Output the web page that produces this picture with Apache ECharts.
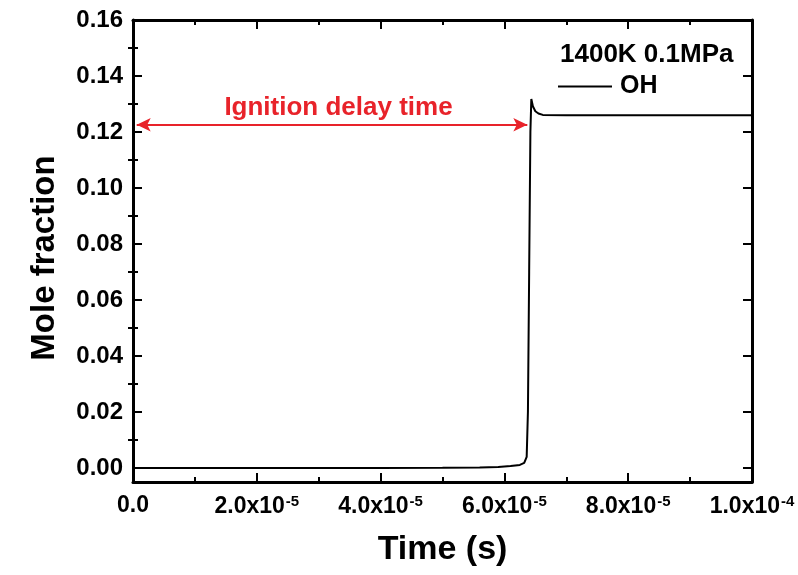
<!DOCTYPE html>
<html>
<head>
<meta charset="utf-8">
<script src="https://cdn.jsdelivr.net/npm/echarts@6/dist/echarts.min.js"></script>
<style>
html,body{margin:0;padding:0;background:#fff;}
#chart{width:798px;height:575px;}
</style>
</head>
<body>
<div id="chart"></div>
<script>
// ---- data ----
const timeS = [0, 2.0e-5, 4.0e-5, 5.0e-5, 5.6e-5, 5.9e-5, 6.1e-5, 6.25e-5, 6.32e-5, 6.36e-5, 6.38e-5, 6.40e-5, 6.42e-5, 6.435e-5, 6.46e-5, 6.5e-5, 6.55e-5, 6.62e-5, 7.0e-5, 8.0e-5, 1.0e-4];
const ohFraction = [0, 0, 0, 0.00005, 0.0002, 0.0004, 0.0007, 0.0011, 0.0018, 0.004, 0.02, 0.07, 0.12, 0.1318, 0.1292, 0.1274, 0.1266, 0.1261, 0.126, 0.126, 0.126];
const xTickValues = [0, 2e-5, 4e-5, 6e-5, 8e-5, 1e-4];
const xTickLabels = ['{b|0.0}', '{b|2.0x10}{s|-5}', '{b|4.0x10}{s|-5}', '{b|6.0x10}{s|-5}', '{b|8.0x10}{s|-5}', '{b|1.0x10}{s|-4}'];
const yMajorTicks = [0, 0.02, 0.04, 0.06, 0.08, 0.10, 0.12, 0.14, 0.16];
const yTickLabels = ['0.00', '0.02', '0.04', '0.06', '0.08', '0.10', '0.12', '0.14', '0.16'];
const yMinorTicks = [0.01, 0.03, 0.05, 0.07, 0.09, 0.11, 0.13, 0.15];
const arrowX = [6e-7, 6.37e-5];
const arrowY = 0.1226;
const seriesName = 'OH';
const conditionText = '1400K 0.1MPa';
const arrowText = 'Ignition delay time';

const FONT = 'Liberation Sans, Arial, sans-serif';
const black = '#000';
const red = '#e8232a';

function xLabel(v) {
  for (let i = 0; i < xTickValues.length; i++) {
    if (Math.abs(v - xTickValues[i]) < 1e-9) return xTickLabels[i];
  }
  return '';
}
function yLabel(v) {
  for (let i = 0; i < yMajorTicks.length; i++) {
    if (Math.abs(v - yMajorTicks[i]) < 1e-6) return yTickLabels[i];
  }
  return '';
}

const axisLineStyle = {show: true, onZero: false, lineStyle: {color: black, width: 3}};
const tickLine = {color: black, width: 2};

function xAxisDef(pos, withLabels) {
  return {
    type: 'value', position: pos, min: 0, max: 1e-4, interval: 2e-5,
    axisLine: axisLineStyle,
    axisTick: {show: true, inside: true, length: 9, lineStyle: tickLine},
    minorTick: {show: true, splitNumber: 2, length: 5, lineStyle: tickLine},
    splitLine: {show: false}, minorSplitLine: {show: false},
    axisLabel: withLabels ? {
      show: true, margin: 12, formatter: xLabel, color: black,
      rich: {
        b: {fontFamily: FONT, fontSize: 23, fontWeight: 'bold', color: black},
        s: {fontFamily: FONT, fontSize: 15, fontWeight: 'bold', color: black, verticalAlign: 'bottom', padding: [0, 0, 10, 1]}
      }
    } : {show: false},
    name: withLabels ? 'Time (s)' : '',
    nameLocation: 'middle', nameGap: 51,
    nameTextStyle: {fontFamily: FONT, fontSize: 34, fontWeight: 'bold', color: black}
  };
}

function yAxisMajor(pos, withLabels) {
  return {
    type: 'value', position: pos, min: -0.005, max: 0.16,
    axisLine: axisLineStyle,
    axisTick: {show: true, inside: true, length: 9, lineStyle: tickLine, customValues: yMajorTicks},
    splitLine: {show: false},
    axisLabel: withLabels ? {
      show: true, margin: 10, customValues: yMajorTicks, formatter: yLabel,
      fontFamily: FONT, fontSize: 24, fontWeight: 'bold', color: black
    } : {show: false},
    name: withLabels ? 'Mole fraction' : '',
    nameLocation: 'middle', nameGap: 72,
    nameTextStyle: {fontFamily: FONT, fontSize: 33, fontWeight: 'bold', color: black, padding: [0, 14, 0, 0]}
  };
}
function yAxisMinor(pos) {
  return {
    type: 'value', position: pos, min: -0.005, max: 0.16,
    axisLine: {show: false},
    axisTick: {show: true, inside: true, length: 5, lineStyle: tickLine, customValues: yMinorTicks},
    splitLine: {show: false},
    axisLabel: {show: false}
  };
}

const chart = echarts.init(document.getElementById('chart'), null, {renderer: 'canvas'});
chart.setOption({
  animation: false,
  backgroundColor: '#fff',
  textStyle: {fontFamily: FONT},
  grid: {left: 133, right: 46, top: 20, bottom: 93},
  title: {
    text: conditionText, left: 560, top: 42, padding: 0,
    textStyle: {fontFamily: FONT, fontSize: 26, fontWeight: 'bold', color: black}
  },
  legend: {
    data: [{name: seriesName, icon: 'rect'}], left: 558, top: 74, padding: 0,
    itemWidth: 54, itemHeight: 2, selectedMode: false,
    itemStyle: {color: black, borderWidth: 0},
    textStyle: {fontFamily: FONT, fontSize: 25, fontWeight: 'bold', color: black, padding: [0, 0, 0, 3]}
  },
  xAxis: [xAxisDef('bottom', true), xAxisDef('top', false)],
  yAxis: [yAxisMajor('left', true), yAxisMinor('left'), yAxisMajor('right', false), yAxisMinor('right')],
  series: [{
    name: seriesName, type: 'line', xAxisIndex: 0, yAxisIndex: 0,
    data: timeS.map((t, i) => [t, ohFraction[i]]),
    symbol: 'none', smooth: false,
    lineStyle: {color: black, width: 2},
    itemStyle: {color: black},
    emphasis: {disabled: true},
    markLine: {
      silent: true,
      symbol: ['arrow', 'arrow'],
      symbolSize: [10, 14],
      lineStyle: {color: red, width: 2, type: 'solid'},
      label: {
        show: true, position: 'middle', formatter: arrowText, distance: 4,
        fontFamily: FONT, fontSize: 26, fontWeight: 'bold', color: red, padding: [0, 0, 0, 13]
      },
      emphasis: {disabled: true},
      data: [[{coord: [arrowX[0], arrowY]}, {coord: [arrowX[1], arrowY]}]]
    }
  }]
});
</script>
</body>
</html>
